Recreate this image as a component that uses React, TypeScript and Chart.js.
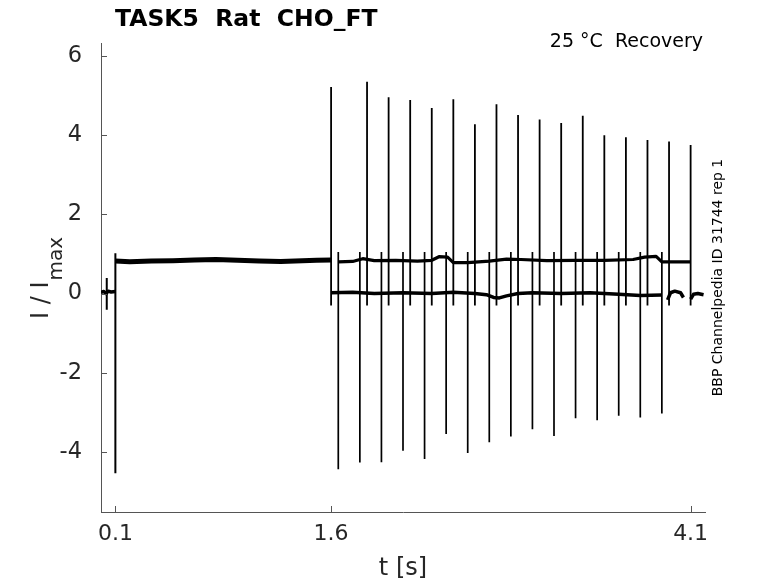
import { useEffect, useRef } from 'react';
import { Chart, registerables } from 'chart.js';

Chart.register(...registerables);

// recording trace, key points (t in s, I / Imax)
const preT = [0, 0.02, 0.035, 0.05, 0.07, 0.1];
const preI = [0.03, 0.05, 0.0, 0.06, 0.04, 0.05];

const plateauT = [0.1, 0.2, 0.35, 0.5, 0.65, 0.8, 0.95, 1.1, 1.25, 1.4, 1.5, 1.6];
const plateauI = [0.82, 0.8, 0.82, 0.83, 0.85, 0.86, 0.84, 0.82, 0.81, 0.83, 0.84, 0.85];

const upperT = [1.65, 1.75, 1.82, 1.9, 2.05, 2.2, 2.3, 2.35, 2.41, 2.45, 2.55, 2.7, 2.82, 2.92, 3.1, 3.3, 3.5, 3.7, 3.78, 3.86, 3.9, 4.0, 4.1];
const upperI = [0.8, 0.81, 0.88, 0.83, 0.84, 0.82, 0.84, 0.93, 0.92, 0.78, 0.78, 0.82, 0.87, 0.86, 0.83, 0.84, 0.84, 0.86, 0.92, 0.94, 0.8, 0.8, 0.8];

const lowerT = [1.6, 1.75, 1.9, 2.1, 2.3, 2.45, 2.6, 2.68, 2.73, 2.77, 2.82, 2.9, 3.0, 3.2, 3.4, 3.6, 3.75, 3.9, 3.92, 3.94, 3.96, 3.99, 4.03, 4.05, 4.07, 4.1, 4.12, 4.15, 4.19];
const lowerI = [0.02, 0.03, 0.0, 0.02, 0.0, 0.03, 0.0, -0.03, -0.1, -0.11, -0.06, 0.0, 0.02, 0.0, 0.02, -0.02, -0.05, -0.04, null, -0.16, 0.02, 0.06, 0.02, -0.1, null, -0.14, -0.02, 0.0, -0.03];

// capacitive transients
const onsetT = [0.04, 0.1];
const onsetLow = [-0.41, -4.54];
const onsetHigh = [0.39, 1.02];

const upSpikeT = [1.6, 1.85, 2.0, 2.15, 2.3, 2.45, 2.6, 2.75, 2.9, 3.05, 3.2, 3.35, 3.5, 3.65, 3.8, 3.95, 4.1];
const upSpikePeak = [5.22, 5.35, 4.96, 4.89, 4.69, 4.91, 4.28, 4.78, 4.51, 4.4, 4.31, 4.49, 4.0, 3.95, 3.88, 3.84, 3.75];
const upSpikeFoot = -0.3;

const downSpikeT = [1.65, 1.8, 1.95, 2.1, 2.25, 2.4, 2.55, 2.7, 2.85, 3.0, 3.15, 3.3, 3.45, 3.6, 3.75, 3.9];
const downSpikePeak = [-4.44, -4.27, -4.26, -3.97, -4.18, -3.55, -4.03, -3.76, -3.61, -3.43, -3.6, -3.15, -3.2, -3.09, -3.13, -3.03];
const downSpikeFoot = 1.05;

const xTicks = [0.1, 1.6, 4.1];
const yTicks = [-4, -2, 0, 2, 4, 6];

const titleText = 'TASK5  Rat  CHO_FT';
const conditionText = '25 °C  Recovery';
const sideText = 'BBP Channelpedia ID 31744 rep 1';

const FONT = '"DejaVu Sans", "Liberation Sans", sans-serif';
const AXIS_COLOR = '#555555';
const TEXT_COLOR = '#262626';

const toPoints = (ts: number[], vs: (number | null)[]) => ts.map((t, i) => ({ x: t, y: vs[i] }));

const verticals = (ts: number[], lows: number[], highs: number[]) => {
  const pts: { x: number; y: number | null }[] = [];
  ts.forEach((t, i) => {
    pts.push({ x: t, y: lows[i] }, { x: t, y: highs[i] }, { x: t, y: null });
  });
  return pts;
};

const labelsPlugin = {
  id: 'matlabLabels',
  afterDraw(chart: any) {
    const { ctx, chartArea, scales } = chart;
    ctx.save();

    // inward tick marks
    ctx.strokeStyle = AXIS_COLOR;
    ctx.lineWidth = 1;
    xTicks.forEach((v) => {
      const px = Math.round(scales.x.getPixelForValue(v)) + 0.5;
      ctx.beginPath();
      ctx.moveTo(px, chartArea.bottom);
      ctx.lineTo(px, chartArea.bottom - 6);
      ctx.stroke();
    });
    yTicks.forEach((v) => {
      const py = Math.round(scales.y.getPixelForValue(v)) + 0.5;
      ctx.beginPath();
      ctx.moveTo(chartArea.left, py);
      ctx.lineTo(chartArea.left + 6, py);
      ctx.stroke();
    });

    // title and note
    ctx.fillStyle = '#000';
    ctx.textBaseline = 'alphabetic';
    ctx.textAlign = 'left';
    ctx.font = `bold 23.5px ${FONT}`;
    ctx.fillText(titleText, 115, 26);

    ctx.textAlign = 'right';
    ctx.font = `19px ${FONT}`;
    ctx.fillText(conditionText, 703, 47);

    // x label
    ctx.fillStyle = TEXT_COLOR;
    ctx.textAlign = 'center';
    ctx.font = `24px ${FONT}`;
    ctx.fillText('t [s]', (chartArea.left + chartArea.right) / 2, 575);

    // y label with subscript
    ctx.save();
    ctx.translate(48, 319);
    ctx.rotate(-Math.PI / 2);
    ctx.textAlign = 'left';
    ctx.font = `24px ${FONT}`;
    const main = 'I / I';
    const w = ctx.measureText(main).width;
    ctx.fillText(main, 0, 0);
    ctx.font = `20px ${FONT}`;
    ctx.fillText('max', w + 1, 13.5);
    ctx.restore();

    // side label
    ctx.save();
    ctx.fillStyle = '#000';
    ctx.translate(721.5, (chartArea.top + chartArea.bottom) / 2);
    ctx.rotate(-Math.PI / 2);
    ctx.textAlign = 'center';
    ctx.font = `14px ${FONT}`;
    ctx.fillText(sideText, 0, 0);
    ctx.restore();

    ctx.restore();
  },
};

const TraceChart = () => {
  const canvasRef = useRef<HTMLCanvasElement | null>(null);
  const chartRef = useRef<Chart | null>(null);

  useEffect(() => {
    if (!canvasRef.current) return;

    const band = (data: any[], width: number) => ({
      data,
      borderColor: '#000',
      borderWidth: width,
      pointRadius: 0,
      tension: 0,
      spanGaps: false,
      borderJoinStyle: 'round' as const,
    });

    const config: any = {
      type: 'line',
      data: {
        datasets: [
          band(toPoints(preT, preI), 3.5),
          band(toPoints(plateauT, plateauI), 5),
          band(toPoints(upperT, upperI), 3.2),
          band(toPoints(lowerT, lowerI), 3.5),
          band(verticals(onsetT, onsetLow, onsetHigh), 2),
          band(verticals(upSpikeT, upSpikeT.map(() => upSpikeFoot), upSpikePeak), 1.8),
          band(verticals(downSpikeT, downSpikePeak, downSpikeT.map(() => downSpikeFoot)), 1.7),
        ],
      },
      options: {
        responsive: false,
        animation: false,
        events: [],
        layout: { padding: { left: 0, top: 43, right: 73, bottom: 0 } },
        plugins: { legend: { display: false }, title: { display: false }, tooltip: { enabled: false } },
        scales: {
          x: {
            type: 'linear',
            min: 0,
            max: 4.2,
            afterFit: (s: any) => { s.height = 71; },
            afterBuildTicks: (s: any) => { s.ticks = xTicks.map((value) => ({ value })); },
            grid: { display: false, drawTicks: false },
            border: { display: true, color: AXIS_COLOR, width: 1 },
            ticks: {
              color: TEXT_COLOR,
              font: { family: FONT, size: 22 },
              padding: 9,
              maxRotation: 0,
              autoSkip: false,
              callback: (v: number) => String(v),
            },
          },
          y: {
            type: 'linear',
            min: -5.52,
            max: 6.33,
            afterFit: (s: any) => { s.width = 101; },
            afterBuildTicks: (s: any) => { s.ticks = yTicks.map((value) => ({ value })); },
            grid: { display: false, drawTicks: false },
            border: { display: true, color: AXIS_COLOR, width: 1 },
            ticks: {
              color: TEXT_COLOR,
              font: { family: FONT, size: 22.5 },
              padding: 19,
              autoSkip: false,
              callback: (v: number) => String(v),
            },
          },
        },
      },
      plugins: [labelsPlugin],
    };

    chartRef.current = new Chart(canvasRef.current, config);

    return () => {
      if (chartRef.current) {
        chartRef.current.destroy();
        chartRef.current = null;
      }
    };
  }, []);

  return <canvas ref={canvasRef} width={778} height={583} />;
};

export default function App() {
  return (
    <div style={{ position: 'absolute', left: 0, top: 0, width: 778, height: 583, background: '#fff' }}>
      <TraceChart />
    </div>
  );
}
